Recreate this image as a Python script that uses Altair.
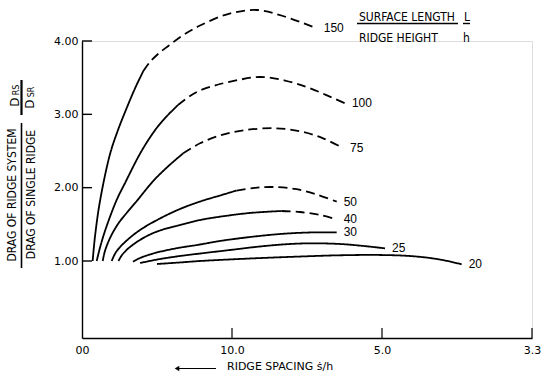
import altair as alt
import pandas as pd

# Surface length / ridge height (L/h) of each curve
curve_names = ["150", "100", "75", "50", "40", "30", "25", "20"]

# h/s (inverse ridge spacing) along each curve
hs_150 = [0.0071, 0.0087, 0.0120, 0.0187, 0.0240, 0.0298, 0.0353, 0.0409,
          0.0453, 0.0507, 0.0575, 0.0675, 0.0787, 0.0973, 0.1165, 0.1340, 0.1565]
hs_100 = [0.0098, 0.0123, 0.0160, 0.0231, 0.0287, 0.0397, 0.0498, 0.0573, 0.0640,
          0.0720, 0.0787, 0.0898, 0.1040, 0.1187, 0.1353, 0.1520, 0.1753]
hs_75 = [0.0138, 0.0153, 0.0187, 0.0240, 0.0300, 0.0365, 0.0475, 0.0573, 0.0675,
         0.0787, 0.0933, 0.1087, 0.1287, 0.1453, 0.1600, 0.1740]
hs_50 = [0.0198, 0.0227, 0.0287, 0.0387, 0.0520, 0.0653, 0.0787, 0.0920,
         0.1031, 0.1153, 0.1273, 0.1420, 0.1553, 0.1698]
hs_40 = [0.0243, 0.0267, 0.0320, 0.0420, 0.0520, 0.0653, 0.0787, 0.0920,
         0.1120, 0.1331, 0.1453, 0.1587, 0.1698]
hs_30 = [0.0340, 0.0387, 0.0487, 0.0620, 0.0787, 0.0920, 0.1120, 0.1320, 0.1520, 0.1698]
hs_25 = [0.0387, 0.0520, 0.0653, 0.0787, 0.0987, 0.1187, 0.1387, 0.1540, 0.1720, 0.1867, 0.2020]
hs_20 = [0.0500, 0.0653, 0.0787, 0.1120, 0.1453, 0.1720, 0.1987, 0.2207, 0.2387, 0.2531]

# Drag of ridge system / drag of single ridge along each curve
dr_150 = [1.00, 1.341, 1.818, 2.459, 2.786, 3.086, 3.352, 3.591,
          3.714, 3.823, 3.932, 4.082, 4.211, 4.368, 4.423, 4.341, 4.173]
dr_100 = [1.00, 1.205, 1.45, 1.832, 2.064, 2.50, 2.814, 2.991, 3.127,
          3.25, 3.325, 3.40, 3.468, 3.509, 3.461, 3.355, 3.15]
dr_75 = [1.00, 1.136, 1.314, 1.505, 1.661, 1.818, 2.091, 2.289, 2.469,
         2.605, 2.72, 2.785, 2.81, 2.77, 2.68, 2.54]
dr_50 = [1.00, 1.123, 1.259, 1.423, 1.58, 1.709, 1.811, 1.893,
         1.961, 1.998, 2.009, 1.982, 1.914, 1.809]
dr_40 = [1.00, 1.082, 1.191, 1.327, 1.416, 1.491, 1.559, 1.604,
         1.655, 1.682, 1.668, 1.627, 1.566]
dr_30 = [0.99, 1.041, 1.109, 1.17, 1.225, 1.273, 1.327, 1.368, 1.389, 1.389]
dr_25 = [0.973, 1.027, 1.068, 1.102, 1.15, 1.198, 1.232, 1.241, 1.232, 1.207, 1.173]
dr_20 = [0.959, 0.98, 1.00, 1.034, 1.061, 1.078, 1.082, 1.065, 1.02, 0.955]

# Last h/s of the measured (solid) part; beyond it the curve is extrapolated (dashed)
solid_until = [0.0409, 0.0640, 0.0675, 0.1031, 0.1331, 1.0, 1.0, 1.0]

# Axis ticks
x_tick_values = [0, 0.1, 0.2, 0.3]
x_tick_labels = ["00", "10.0", "5.0", "3.3"]
y_tick_values = [1, 2, 3, 4]

all_hs = [hs_150, hs_100, hs_75, hs_50, hs_40, hs_30, hs_25, hs_20]
all_dr = [dr_150, dr_100, dr_75, dr_50, dr_40, dr_30, dr_25, dr_20]

rows, ends = [], []
for name, xs, ys, brk in zip(curve_names, all_hs, all_dr, solid_until):
    for x, y in zip(xs, ys):
        if x <= brk:
            rows.append({"curve": name, "seg": "solid", "hs": x, "dr": y})
        if x >= brk:
            rows.append({"curve": name, "seg": "dashed", "hs": x, "dr": y})
    ends.append({"curve": name, "hs": xs[-1], "dr": ys[-1]})
lines_df = pd.DataFrame(rows)
ends_df = pd.DataFrame(ends)

W, H = 450, 297
FONT = "DejaVu Sans"
NARROW = "DejaVu Sans Condensed, DejaVu Sans"
NUM = "Liberation Sans Narrow, Liberation Sans"

x_scale = alt.Scale(domain=[0, 0.3], nice=False, zero=False)
y_scale = alt.Scale(domain=[-0.05, 4.0], nice=False, zero=False)

label_expr = "[{}][indexof([{}], datum.value)]".format(
    ",".join("'%s'" % s for s in x_tick_labels),
    ",".join(str(v) for v in x_tick_values),
)

curves = alt.Chart(lines_df).mark_line(
    color="black", strokeWidth=1.8, interpolate="catmull-rom", clip=False
).encode(
    x=alt.X("hs:Q", scale=x_scale, axis=alt.Axis(
        values=x_tick_values, labelExpr=label_expr, ticks=False, grid=False,
        title=None, domainColor="black", domainWidth=1.4, labelFlush=False,
        labelFont=FONT, labelFontSize=11, labelColor="black", labelPadding=6)),
    y=alt.Y("dr:Q", scale=y_scale, axis=alt.Axis(
        values=y_tick_values, format=".2f", ticks=False, grid=False,
        title=None, domainColor="black", domainWidth=1.4,
        labelFont=FONT, labelFontSize=11, labelColor="black", labelPadding=4)),
    detail="curve:N",
    strokeDash=alt.StrokeDash("seg:N", legend=None, scale=alt.Scale(
        domain=["solid", "dashed"], range=[[1, 0], [9, 5]])),
)

curve_labels = alt.Chart(ends_df).mark_text(
    align="left", baseline="middle", dx=7, font=NUM, fontSize=12, color="black"
).encode(x=alt.X("hs:Q", scale=x_scale), y=alt.Y("dr:Q", scale=y_scale), text="curve:N")

# inward tick marks
xt = alt.Chart(pd.DataFrame({"v": x_tick_values[1:]})).mark_rule(
    color="black", strokeWidth=1.2
).encode(x=alt.X("v:Q", scale=x_scale), y=alt.value(H), y2=alt.value(H - 10))
yt = alt.Chart(pd.DataFrame({"v": y_tick_values})).mark_rule(
    color="black", strokeWidth=1.4
).encode(y=alt.Y("v:Q", scale=y_scale), x=alt.value(0), x2=alt.value(10))


def note(text, x, y, size=11, angle=0, align="left", font=FONT):
    return alt.Chart(pd.DataFrame({"t": [text]})).mark_text(
        align=align, baseline="middle", fontSize=size, angle=angle,
        font=font, color="black"
    ).encode(x=alt.value(x), y=alt.value(y), text="t:N")


def bar(x1, y1, x2, y2, w=1.4):
    return alt.Chart(pd.DataFrame({"a": [0]})).mark_rule(
        color="black", strokeWidth=w
    ).encode(x=alt.value(x1), y=alt.value(y1), x2=alt.value(x2), y2=alt.value(y2))


# y-axis title as a stacked fraction, rotated
y_title = [
    note("DRAG OF RIDGE SYSTEM", -70, 154, size=12, angle=270, align="center", font=NARROW),
    bar(-60.5, 82, -60.5, 227, 1.6),
    note("DRAG OF SINGLE RIDGE", -51, 153.5, size=12, angle=270, align="center", font=NARROW),
    note("D", -67, 61, size=12, angle=270, align="center"),
    note("RS", -65, 49, size=8, angle=270, align="center"),
    bar(-60.5, 39, -60.5, 74, 2.2),
    note("D", -52, 63, size=12, angle=270, align="center"),
    note("SR", -50, 51, size=8, angle=270, align="center"),
]

# L/h key in the upper right
key = [
    note("SURFACE LENGTH", 277, -24.5, size=12, font=NARROW),
    bar(275, -17.5, 376, -17.5, 1.4),
    note("L", 382, -24.5, size=12, font=NARROW),
    bar(381, -17.5, 388, -17.5, 1.4),
    note("RIDGE HEIGHT", 277, -3.5, size=12, font=NARROW),
    note("h", 381, -3.5, size=12, font=NARROW),
]

# x-axis title with arrow pointing toward wider spacing
x_title = [
    bar(95, 327.5, 134, 327.5, 1.2),
    alt.Chart(pd.DataFrame({"a": [0]})).mark_point(
        shape="triangle-left", filled=True, color="black", size=28, opacity=1
    ).encode(x=alt.value(95), y=alt.value(327.5)),
    note("RIDGE SPACING ṡ/h", 145, 326, size=11, font=FONT),
]

chart = alt.layer(
    curves, curve_labels, xt, yt, *y_title, *key, *x_title
).properties(
    width=W, height=H,
    autosize=alt.AutoSizeParams(type="none"),
    padding={"left": 82, "top": 41, "right": 10, "bottom": 35},
).configure_view(stroke=None).configure(background="white")

chart.save("out.html", embed_options={"renderer": "svg", "actions": False})
